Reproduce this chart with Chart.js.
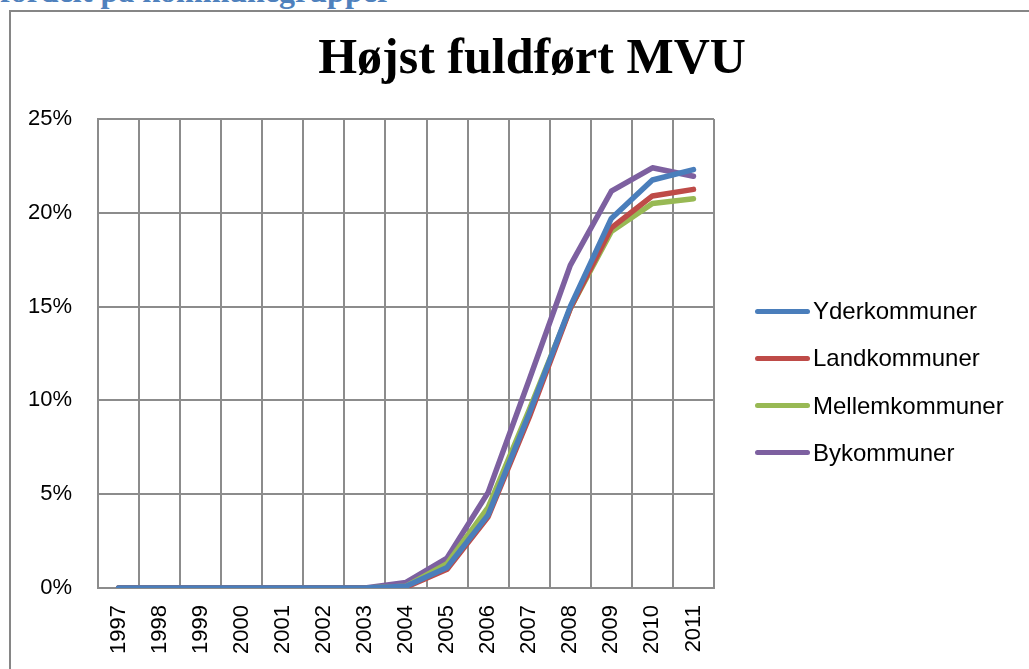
<!DOCTYPE html>
<html>
<head>
<meta charset="utf-8">
<script src="https://cdn.jsdelivr.net/npm/chart.js@4.4.1/dist/chart.umd.min.js"></script>
<style>
  html, body { margin: 0; padding: 0; background: #fff; overflow: hidden; }
  body { width: 1029px; height: 669px; position: relative; }
  #heading { position: absolute; left: 0; top: -25px; font: bold 32px/32px "Liberation Serif", serif; color: #4F81BD; white-space: nowrap; }
  #frame { position: absolute; left: 9px; top: 10px; width: 1040px; height: 700px; border: 2px solid #868686; box-sizing: border-box; pointer-events: none; }
  #title { position: absolute; left: 232px; width: 600px; top: 31px; text-align: center; font: bold 50px/50px "Liberation Serif", serif; color: #000; white-space: nowrap; }
  #wrap { position: absolute; left: 0; top: 0; width: 1029px; height: 671px; }
  .leg { position: absolute; left: 755px; height: 24px; display: flex; align-items: center; font: 24px/24px "Liberation Sans", Arial, sans-serif; color: #000; white-space: nowrap; }
  .leg i { display: inline-block; width: 55px; height: 5px; border-radius: 3px; margin-right: 3px; }
</style>
</head>
<body>
<div id="heading">fordelt på kommunegrupper</div>
<div id="wrap"><canvas id="chart"></canvas></div>
<div id="title">Højst fuldført MVU</div>
<div id="legend"></div>
<div id="frame"></div>
<script>
const years = ['1997','1998','1999','2000','2001','2002','2003','2004','2005','2006','2007','2008','2009','2010','2011'];
const yderkommuner   = [0, 0, 0, 0, 0, 0, 0, 0.1, 1.1, 3.9, 9.3, 15.0, 19.7, 21.75, 22.3];
const landkommuner   = [0, 0, 0, 0, 0, 0, 0, 0.05, 1.0, 3.8, 9.1, 14.9, 19.2, 20.9, 21.25];
const mellemkommuner = [0, 0, 0, 0, 0, 0, 0, 0.1, 1.3, 4.3, 9.5, 14.9, 19.0, 20.5, 20.75];
const bykommuner     = [0, 0, 0, 0, 0, 0, 0, 0.3, 1.6, 5.1, 11.1, 17.2, 21.15, 22.4, 21.95];

const seriesNames = ['Yderkommuner', 'Landkommuner', 'Mellemkommuner', 'Bykommuner'];
const seriesColors = ['#4A7EBB', '#BE4B48', '#98B954', '#7D60A0'];
const seriesData = [yderkommuner, landkommuner, mellemkommuner, bykommuner];

const gridColor = '#8C8C8C';
const tickFont = { family: '"Liberation Sans", Arial, sans-serif', size: 22 };

// legend, one row per series
document.getElementById('legend').innerHTML = seriesNames.map((name, i) =>
  `<div class="leg" style="top:${299 + i * 47.3}px;"><i style="background:${seriesColors[i]};"></i>${name}</div>`
).join('');

new Chart(document.getElementById('chart'), {
  type: 'line',
  data: {
    labels: years,
    datasets: seriesNames.map((name, i) => ({
      label: name,
      data: seriesData[i],
      borderColor: seriesColors[i],
      backgroundColor: seriesColors[i],
      borderWidth: 5.5,
      pointRadius: 0,
      tension: 0,
      borderCapStyle: 'round',
      borderJoinStyle: 'round'
    }))
  },
  options: {
    responsive: true,
    maintainAspectRatio: false,
    animation: false,
    layout: { padding: { left: 2, right: 315, top: 119, bottom: 0 } },
    plugins: {
      legend: { display: false },
      tooltip: { enabled: false }
    },
    scales: {
      x: {
        offset: true,
        grid: { offset: true, color: gridColor, lineWidth: 2, drawTicks: false },
        border: { color: gridColor, width: 2 },
        ticks: { color: '#000', font: tickFont, minRotation: 90, maxRotation: 90, padding: 17, autoSkip: false }
      },
      y: {
        min: 0,
        max: 25,
        grid: { color: gridColor, lineWidth: 2, drawTicks: false },
        border: { color: gridColor, width: 2 },
        ticks: { color: '#000', font: tickFont, stepSize: 5, padding: 26, callback: v => v + '%' }
      }
    }
  }
});
</script>
</body>
</html>
